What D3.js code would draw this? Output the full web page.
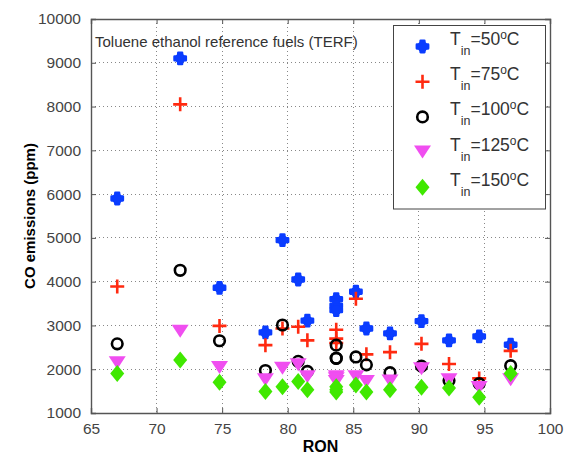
<!DOCTYPE html>
<html><head><meta charset="utf-8">
<script src="https://cdn.jsdelivr.net/npm/d3@7"></script>
<style>
body{margin:0;background:#fff;}
text{font-family:"Liberation Sans",Arial,sans-serif;}
</style></head>
<body><svg id="c" width="564" height="463"></svg>
<script>
const ron   = [67.0, 71.8, 74.8, 78.3, 79.6, 80.8, 81.5, 83.7, 83.7, 83.7, 85.2, 86.0, 87.8, 90.2, 92.3, 94.6, 97.0];
const co50  = [5900, 9100, 3860, 2840, 4950, 4050, 3110, 3600, 3450, 3350, 3770, 2930, 2820, 3100, 2660, 2750, 2560];
const co75  = [3890, 8050, 2990, 2550, 2930, 2970, 2660, 2900, 2700, 2600, 3610, 2340, 2390, 2580, 2120, 1790, 2420];
const co100 = [2580, 4260, 2650, 1970, 3010, 2180, 1950, 2550, 2250, 2250, 2280, 2100, 1920, 2070, 1740, 1670, 2080];
const co125 = [2150, 2870, 2040, 1760, 2020, 2100, 1830, 1830, 1720, 1780, 1830, 1720, 1730, 2010, 1760, 1580, 1760];
const co150 = [1900, 2210, 1700, 1490, 1600, 1720, 1530, 1600, 1480, 1530, 1640, 1480, 1530, 1590, 1570, 1360, 1900];
const seriesNames = ["50", "75", "100", "125", "150"];
const xTicks = [65, 70, 75, 80, 85, 90, 95, 100];
const yTicks = [1000, 2000, 3000, 4000, 5000, 6000, 7000, 8000, 9000, 10000];

const series = [
  {name: seriesNames[0], vals: co50,  kind: "blob", color: "#0a3cff"},
  {name: seriesNames[1], vals: co75,  kind: "plus", color: "#ff2a10"},
  {name: seriesNames[2], vals: co100, kind: "ring", color: "#000"},
  {name: seriesNames[3], vals: co125, kind: "tri",  color: "#f04ef0"},
  {name: seriesNames[4], vals: co150, kind: "dia",  color: "#40e800"}
];

const svg = d3.select("#c");
const m = {l: 91, r: 14, t: 19, b: 50};
const W = 564, H = 463;
const x = d3.scaleLinear().domain([65, 100]).range([m.l, W - m.r]);
const y = d3.scaleLinear().domain([1000, 10000]).range([H - m.b, m.t]);

// grid
const g = svg.append("g");
g.selectAll(".gx").data(xTicks.slice(1, -1)).join("line")
  .attr("x1", d => x(d)).attr("x2", d => x(d)).attr("y1", m.t).attr("y2", H - m.b)
  .attr("stroke", "#888").attr("stroke-width", 1).attr("stroke-dasharray", "1,3")
  .attr("shape-rendering", "crispEdges");
g.selectAll(".gy").data(yTicks.slice(1, -1)).join("line")
  .attr("y1", d => y(d)).attr("y2", d => y(d)).attr("x1", m.l).attr("x2", W - m.r)
  .attr("stroke", "#888").attr("stroke-width", 1).attr("stroke-dasharray", "1,3")
  .attr("shape-rendering", "crispEdges");

// axes
const axCol = "#555";
const xb = svg.append("g").attr("transform", `translate(0,${H - m.b})`)
  .call(d3.axisBottom(x).tickValues(xTicks).tickSize(-5).tickPadding(10).tickFormat(d3.format("d")));
const xt = svg.append("g").attr("transform", `translate(0,${m.t})`)
  .call(d3.axisTop(x).tickValues(xTicks).tickSize(-5).tickFormat(""));
const yl = svg.append("g").attr("transform", `translate(${m.l},0)`)
  .call(d3.axisLeft(y).tickValues(yTicks).tickSize(-5).tickPadding(10).tickFormat(d3.format("d")));
const yr = svg.append("g").attr("transform", `translate(${W - m.r},0)`)
  .call(d3.axisRight(y).tickValues(yTicks).tickSize(-5).tickFormat(""));
[xb, xt, yl, yr].forEach(a => {
  a.select(".domain").attr("stroke", axCol).attr("stroke-width", 1.4);
  a.selectAll(".tick line").attr("stroke", axCol);
  a.selectAll(".tick text").attr("fill", "#444").attr("font-size", 15.5)
    .attr("font-family", "Liberation Sans, Arial, sans-serif");
});

// annotation
svg.append("text").attr("x", 95).attr("y", 47).attr("fill", "#333").attr("font-size", 15)
  .text("Toluene ethanol reference fuels (TERF)");

// markers
function drawMarker(sel, kind, color) {
  if (kind === "blob") {
    sel.append("path").attr("d", d3.symbol(d3.symbolCross, 70)())
      .attr("fill", color).attr("stroke", color).attr("stroke-width", 2.6).attr("stroke-linejoin", "round");
    sel.append("circle").attr("r", 5.2).attr("fill", color);
  } else if (kind === "plus") {
    sel.append("path").attr("d", "M-7,0H7M0,-7V7").attr("stroke", color).attr("stroke-width", 2.6).attr("fill", "none");
  } else if (kind === "ring") {
    sel.append("circle").attr("r", 5.3).attr("fill", "none").attr("stroke", color).attr("stroke-width", 2.6);
  } else if (kind === "tri") {
    sel.append("path").attr("d", "M-8.5,-6.5L8.5,-6.5L0,6.5Z").attr("fill", color);
  } else if (kind === "dia") {
    sel.append("path").attr("d", "M0,-8.5L7,0L0,8.5L-7,0Z").attr("fill", color);
  }
}
series.forEach(s => {
  const gs = svg.append("g");
  s.vals.forEach((v, i) => {
    const mk = gs.append("g").attr("transform", `translate(${x(ron[i])},${y(v)})`);
    drawMarker(mk, s.kind, s.color);
  });
});

// axis labels
svg.append("text").attr("x", (m.l + W - m.r) / 2).attr("y", 452).attr("text-anchor", "middle")
  .attr("font-weight", "bold").attr("font-size", 16).text("RON");
svg.append("text").attr("transform", `translate(35,${(m.t + H - m.b) / 2}) rotate(-90)`)
  .attr("text-anchor", "middle").attr("font-weight", "bold").attr("font-size", 15)
  .text("CO emissions (ppm)");

// legend
const lg = svg.append("g");
lg.append("rect").attr("x", 393.5).attr("y", 25.5).attr("width", 152).attr("height", 183.5)
  .attr("fill", "#fff").attr("stroke", "#444").attr("stroke-width", 1);
series.forEach((s, i) => {
  const yy = 46.5 + i * 35.2;
  const mk = lg.append("g").attr("transform", `translate(422.5,${yy})`);
  drawMarker(mk, s.kind, s.color);
  const t = lg.append("text").attr("x", 450).attr("y", yy - 1.5).attr("font-size", 17.5).attr("fill", "#333");
  t.append("tspan").text("T");
  t.append("tspan").attr("font-size", 12.5).attr("dy", 10).text("in");
  t.append("tspan").attr("dy", -10).text("=" + s.name);
  t.append("tspan").attr("font-size", 12).attr("dy", -6).text("o");
  t.append("tspan").attr("dy", 6).text("C");
});
</script></body></html>
